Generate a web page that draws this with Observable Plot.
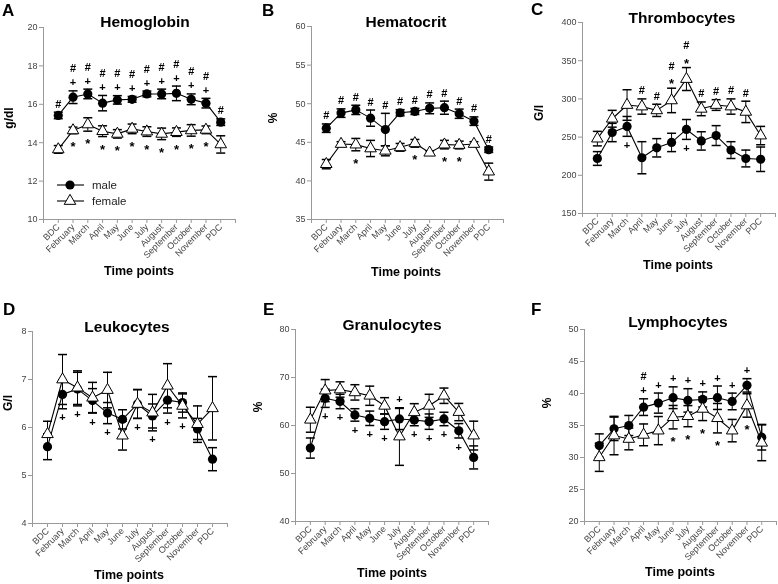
<!DOCTYPE html>
<html><head><meta charset="utf-8">
<script src="https://cdn.jsdelivr.net/npm/d3@7"></script>
<script src="https://cdn.jsdelivr.net/npm/@observablehq/plot@0.6"></script>
<style>
body{margin:0;background:#fff;}
#chart{position:relative;width:778px;height:584px;font-family:"Liberation Sans",Arial,sans-serif;overflow:hidden;filter:grayscale(100%);}
#chart svg{position:absolute;left:0;top:0;}
</style></head><body><div id="chart"></div>
<script>
const months = ["BDC","February","March","April","May","June","July","August","September","October","November","PDC"];

// A: Hemoglobin (g/dl)
const hbMale      = [15.42,16.37,16.54,16.06,16.23,16.26,16.54,16.54,16.57,16.26,16.06,15.07];
const hbMaleErr   = [0.17,0.33,0.25,0.4,0.22,0.15,0.15,0.25,0.38,0.28,0.25,0.17];
const hbFemale    = [13.65,14.64,14.95,14.6,14.46,14.72,14.58,14.46,14.55,14.64,14.67,13.91];
const hbFemaleErr = [0.2,0.17,0.35,0.28,0.22,0.25,0.25,0.3,0.22,0.3,0.2,0.45];
const hbAbove = ["#","+#","+#","+#","+#","+#","+#","+#","+#","+#","+#","#"];
const hbBelow = ["","*","*","*","*","*","*","*","*","*","*",""];
const hbTicks = [10,12,14,16,18,20];

// B: Hematocrit (%)
const hctMale      = [46.83,48.78,49.2,48.13,46.65,48.83,49.0,49.4,49.48,48.7,47.74,44.04];
const hctMaleErr   = [0.55,0.55,0.6,1.05,2.1,0.4,0.4,0.7,0.85,0.6,0.55,0.35];
const hctFemale    = [42.17,44.78,44.7,44.2,43.9,44.35,44.87,43.65,44.7,44.65,44.78,41.2];
const hctFemaleErr = [0.6,0.3,0.8,1.05,0.65,0.5,0.5,0.25,0.55,0.5,0.3,1.1];
const hctAbove = ["#","#","#","#","#","#","#","#","#","#","#","#"];
const hctBelow = ["","","*","","","","*","","*","*","",""];
const hctTicks = [35,40,45,50,55,60];

// C: Thrombocytes (G/l)
const thrMale      = [222,256,264,223,236,243,260,245,252,233,222,221];
const thrMaleErr   = [9,12,13,21,12,12,13,12,13,11,11,16];
const thrFemale    = [248,274,292,290,285,298,326,287,292,290,283,252];
const thrFemaleErr = [9.5,11,20,10,8,16,15,9,7,10,14,12];
const thrAbove = ["","","","#","#","*#","*#","#","#","#","#",""];
const thrBelow = ["","","+","","","","+","","","","",""];
const thrTicks = [150,200,250,300,350,400];

// D: Leukocytes (G/l)
const leuMale      = [5.6,6.69,6.8,6.56,6.3,6.17,6.49,6.24,6.57,6.52,5.97,5.34];
const leuMaleErr   = [0.27,0.3,0.35,0.25,0.22,0.2,0.3,0.25,0.27,0.2,0.22,0.24];
const leuFemale    = [5.86,7.0,6.83,6.62,6.78,5.83,6.49,6.31,6.87,6.45,6.07,6.4];
const leuFemaleErr = [0.27,0.52,0.35,0.32,0.37,0.3,0.3,0.38,0.46,0.25,0.38,0.66];
const leuAbove = ["","","","","","","","","","","",""];
const leuBelow = ["","+","+","+","+","","+","+","+","+","",""];
const leuTicks = [4,5,6,7,8];

// E: Granulocytes (%)
const graMale      = [55.3,65.67,65.0,62.2,61.5,60.8,61.36,61.15,60.8,61.36,58.9,53.35];
const graMaleErr   = [2.1,1.9,1.5,1.3,1.5,1.6,2.2,1.2,1.6,1.4,1.5,2.4];
const graFemale    = [61.2,67.27,67.5,66.9,66.2,64.1,57.7,62.75,64.1,66.2,62.8,57.9];
const graFemaleErr = [2.6,2.3,1.6,1.6,2.0,1.7,6.0,1.8,2.4,1.6,1.8,3.0];
const graAbove = ["","","","","","","+","","","","",""];
const graBelow = ["","+","+","+","+","+","","+","+","+","+",""];
const graTicks = [40,50,60,70,80];

// F: Lymphocytes (%)
const lymMale      = [31.86,34.48,35.0,37.87,38.5,39.34,38.92,39.07,39.34,38.76,41.27,33.17];
const lymMaleErr   = [1.83,1.83,1.57,1.3,1.57,1.7,1.83,1.18,1.83,1.3,1.05,2.0];
const lymFemale    = [30.03,33.43,32.9,33.54,34.2,36.3,36.46,37.6,36.14,34.2,38.13,32.3];
const lymFemaleErr = [2.2,3.0,1.7,1.7,2.2,1.83,1.65,1.83,2.3,1.75,1.83,2.8];
const lymAbove = ["","","","+#","+","+","+","+","+","+","+",""];
const lymBelow = ["","","","","","*","*","*","*","","*",""];
const lymTicks = [20,25,30,35,40,45,50];

const W = 778, H = 584;
const panels = [
  {letter:"A", title:"Hemoglobin", unit:"g/dl", male:hbMale, me:hbMaleErr, female:hbFemale, fe:hbFemaleErr, above:hbAbove, below:hbBelow, ticks:hbTicks,
   frame:{l:43,r:235,t:27,b:219}, letterPos:[2,16], titlePos:[145,27], unitPos:[9,118], xlabPos:[139,275], legend:true},
  {letter:"B", title:"Hematocrit", unit:"%", male:hctMale, me:hctMaleErr, female:hctFemale, fe:hctFemaleErr, above:hctAbove, below:hctBelow, ticks:hctTicks,
   frame:{l:311,r:503,t:26,b:219}, letterPos:[262,16], titlePos:[406,27], unitPos:[273,118], xlabPos:[406,276]},
  {letter:"C", title:"Thrombocytes", unit:"G/l", male:thrMale, me:thrMaleErr, female:thrFemale, fe:thrFemaleErr, above:thrAbove, below:thrBelow, ticks:thrTicks,
   frame:{l:582,r:775,t:22,b:213}, letterPos:[531,15], titlePos:[682,23], unitPos:[539,113], xlabPos:[678,269]},
  {letter:"D", title:"Leukocytes", unit:"G/l", male:leuMale, me:leuMaleErr, female:leuFemale, fe:leuFemaleErr, above:leuAbove, below:leuBelow, ticks:leuTicks,
   frame:{l:32,r:227,t:331,b:523}, letterPos:[3,315], titlePos:[127,332], unitPos:[8,403], xlabPos:[129,579]},
  {letter:"E", title:"Granulocytes", unit:"%", male:graMale, me:graMaleErr, female:graFemale, fe:graFemaleErr, above:graAbove, below:graBelow, ticks:graTicks,
   frame:{l:295,r:488,t:329,b:521}, letterPos:[263,315], titlePos:[392,330], unitPos:[258,407], xlabPos:[392,577]},
  {letter:"F", title:"Lymphocytes", unit:"%", male:lymMale, me:lymMaleErr, female:lymFemale, fe:lymFemaleErr, above:lymAbove, below:lymBelow, ticks:lymTicks,
   frame:{l:584,r:776,t:329,b:521}, letterPos:[531,315], titlePos:[678,327], unitPos:[547,403], xlabPos:[680,576]}
];

const capSymbol = {draw(ctx){ ctx.moveTo(-4.5,0); ctx.lineTo(4.5,0); }};
const AX = "#999", TX = "#444";
const chart = document.getElementById("chart");

for (const p of panels) {
  const rows = months.map((m,i)=>({i, m, male:p.male[i], me:p.me[i], female:p.female[i], fe:p.fe[i]}));
  const ann = [];
  rows.forEach(r=>{
    const top = Math.max(r.male+r.me, r.female+r.fe);
    const bot = Math.min(r.male-r.me, r.female-r.fe);
    [...p.above[r.i]].forEach((s,k)=>ann.push({i:r.i, y:top, s, dy:-8-14*k+(s==="*"?4:0), star:s==="*"}));
    [...p.below[r.i]].forEach((s,k)=>ann.push({i:r.i, y:bot, s, dy:9+14*k+(s==="*"?4:0), star:s==="*"}));
  });
  const annMarks = Array.from(d3.group(ann, d=>d.dy+"|"+d.star), ([key, arr]) =>
    Plot.text(arr, {x:"i", y:"y", text:"s", dy:arr[0].dy, fontSize:arr[0].star?13:11, fontWeight:"bold", lineAnchor:"middle", fill:"#000"}));
  const ymin = p.ticks[0], ymax = p.ticks[p.ticks.length-1];
  const svg = Plot.plot({
    width: W, height: H,
    marginLeft: p.frame.l, marginRight: W - p.frame.r, marginTop: p.frame.t, marginBottom: H - p.frame.b,
    style: {background:"none", fontFamily:"Liberation Sans, Arial, sans-serif", fontSize:"9px", overflow:"visible"},
    x: {domain:[-1,12], label:null},
    y: {domain:[ymin,ymax], label:null},
    marks: [
      Plot.ruleX([-1], {stroke:AX}),
      Plot.ruleY([ymin], {stroke:AX}),
      Plot.axisY({ticks:p.ticks, tickFormat:d=>String(d), tickSize:4, tickPadding:2, stroke:AX, fill:TX, label:null, fontSize:9}),
      Plot.axisX({ticks:d3.range(-1,13), tickFormat:i=>months[i] ?? "", tickRotate:-45, tickSize:4, tickPadding:2, stroke:AX, fill:TX, label:null, fontSize:9}),
      // error bars
      Plot.ruleX(rows, {x:"i", y1:d=>d.male-d.me, y2:d=>d.male+d.me, stroke:"black"}),
      Plot.ruleX(rows, {x:"i", y1:d=>d.female-d.fe, y2:d=>d.female+d.fe, stroke:"black"}),
      Plot.dot(rows, {x:"i", y:d=>d.male+d.me, symbol:capSymbol, r:4, stroke:"black", fill:"none"}),
      Plot.dot(rows, {x:"i", y:d=>d.male-d.me, symbol:capSymbol, r:4, stroke:"black", fill:"none"}),
      Plot.dot(rows, {x:"i", y:d=>d.female+d.fe, symbol:capSymbol, r:4, stroke:"black", fill:"none"}),
      Plot.dot(rows, {x:"i", y:d=>d.female-d.fe, symbol:capSymbol, r:4, stroke:"black", fill:"none"}),
      // lines
      Plot.line(rows, {x:"i", y:"male", stroke:"black", strokeWidth:1.1}),
      Plot.line(rows, {x:"i", y:"female", stroke:"black", strokeWidth:1.1}),
      // markers
      Plot.dot(rows, {x:"i", y:"male", r:4.6, fill:"black", stroke:"none", symbol:"circle"}),
      Plot.dot(rows, {x:"i", y:"female", r:4.3, fill:"white", stroke:"black", strokeWidth:1, symbol:"triangle"}),
      ...annMarks
    ]
  });
  chart.appendChild(svg);
}

// overlay: panel letters, titles, unit labels, axis titles, legend
const ov = d3.create("svg").attr("width", W).attr("height", H)
  .style("font-family", "Liberation Sans, Arial, sans-serif").style("overflow","visible");
for (const p of panels) {
  ov.append("text").attr("x", p.letterPos[0]).attr("y", p.letterPos[1]).attr("font-size", 17).attr("font-weight","bold").text(p.letter);
  ov.append("text").attr("x", p.titlePos[0]).attr("y", p.titlePos[1]).attr("text-anchor","middle").attr("font-size", 15.5).attr("font-weight","bold").text(p.title);
  ov.append("text").attr("transform", `translate(${p.unitPos[0]},${p.unitPos[1]}) rotate(-90)`).attr("text-anchor","middle").attr("dominant-baseline","central")
    .attr("font-size", 12).attr("font-weight","bold").text(p.unit);
  ov.append("text").attr("x", p.xlabPos[0]).attr("y", p.xlabPos[1]).attr("text-anchor","middle").attr("font-size", 12.5).attr("font-weight","bold").text("Time points");
  if (p.legend) {
    const lg = ov.append("g");
    [["male",185,true],["female",201,false]].forEach(([lab,y,filled])=>{
      lg.append("line").attr("x1",57).attr("x2",84).attr("y1",y).attr("y2",y).attr("stroke","black").attr("stroke-width",1.1);
      if (filled) lg.append("circle").attr("cx",70).attr("cy",y).attr("r",4.6).attr("fill","black");
      else lg.append("path").attr("transform",`translate(70,${y})`).attr("d", d3.symbol(d3.symbolTriangle, Math.PI*4.3*4.3)()).attr("fill","white").attr("stroke","black");
      lg.append("text").attr("x",92).attr("y",y+4).attr("font-size",11.5).attr("fill","#222").text(lab);
    });
  }
}
chart.appendChild(ov.node());
</script>
</body></html>
